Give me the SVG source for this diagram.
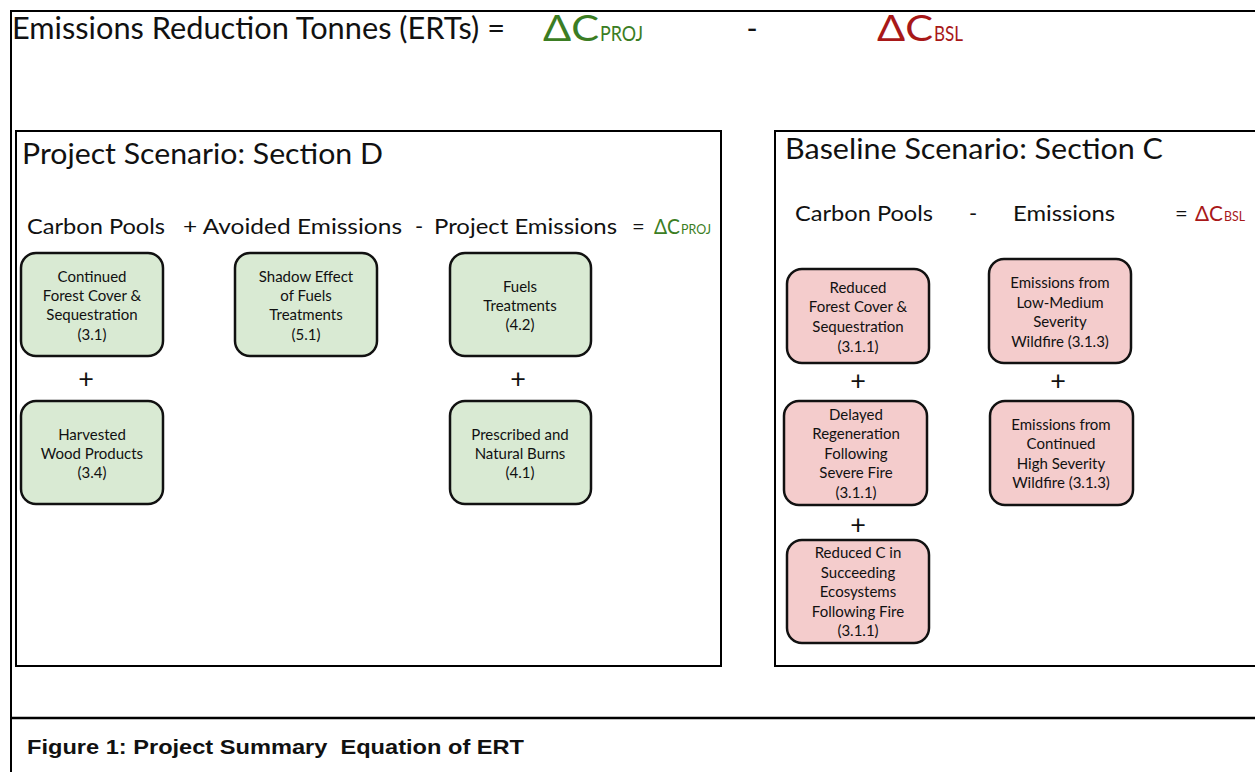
<svg xmlns="http://www.w3.org/2000/svg" width="1255" height="772" viewBox="0 0 1255 772">
<style>
.t{font-family:Lato,"Open Sans","Liberation Sans",sans-serif;fill:#111}
.nt{font-family:Lato,"Open Sans","Liberation Sans",sans-serif;font-size:15px;fill:#111;text-anchor:middle}
.g{fill:#d9ead3;stroke:#111;stroke-width:2.5}
.r{fill:#f4cccc;stroke:#111;stroke-width:2.5}
.frame{fill:none;stroke:#000;stroke-width:2}
.plus{font-family:Lato,"Liberation Sans",sans-serif;font-size:27px;fill:#111;text-anchor:middle}
.grn{fill:#3b7d23}
.red{fill:#a81818}
</style>
<rect width="1255" height="772" fill="#fff"/>
<g id="frame">
<line x1="11" y1="11" x2="1255" y2="11" stroke="#000" stroke-width="2"/>
<line x1="11" y1="10" x2="11" y2="772" stroke="#000" stroke-width="2"/>
<line x1="10" y1="718" x2="1255" y2="718" stroke="#000" stroke-width="2.5"/>
</g>
<g id="title">
<text class="t" x="12" y="39" font-size="30" textLength="493" lengthAdjust="spacingAndGlyphs">Emissions Reduction Tonnes (ERTs) =</text>
<text class="t grn" x="543" y="41" font-size="36" textLength="56" lengthAdjust="spacingAndGlyphs">ΔC</text>
<text class="t grn" x="600" y="41" font-size="22" textLength="43" lengthAdjust="spacingAndGlyphs">PROJ</text>
<text class="t" x="752" y="39" font-size="30" text-anchor="middle">-</text>
<text class="t red" x="877" y="41" font-size="36" textLength="56" lengthAdjust="spacingAndGlyphs">ΔC</text>
<text class="t red" x="934" y="41" font-size="22" textLength="29" lengthAdjust="spacingAndGlyphs">BSL</text>
</g>
<g id="project-box">
<rect class="frame" x="16" y="131" width="705" height="535"/>
<text class="t" x="22" y="164" font-size="28" textLength="361" lengthAdjust="spacingAndGlyphs">Project Scenario: Section D</text>
<text class="t" x="27" y="234" font-size="22" textLength="138" lengthAdjust="spacingAndGlyphs">Carbon Pools</text>
<text class="t" x="183" y="234" font-size="22" textLength="219" lengthAdjust="spacingAndGlyphs">+ Avoided Emissions</text>
<text class="t" x="419" y="234" font-size="22" text-anchor="middle">-</text>
<text class="t" x="434" y="234" font-size="22" textLength="183" lengthAdjust="spacingAndGlyphs">Project Emissions</text>
<text class="t" x="632" y="234" font-size="22">=</text>
<text class="t grn" x="654" y="234" font-size="22" textLength="26" lengthAdjust="spacingAndGlyphs">ΔC</text>
<text class="t grn" x="681" y="234" font-size="13" textLength="30" lengthAdjust="spacingAndGlyphs">PROJ</text>
</g>
<g id="baseline-box">
<rect class="frame" x="775" y="131" width="490" height="535"/>
<text class="t" x="785" y="159" font-size="28" textLength="378" lengthAdjust="spacingAndGlyphs">Baseline Scenario: Section C</text>
<text class="t" x="795" y="221" font-size="22" textLength="138" lengthAdjust="spacingAndGlyphs">Carbon Pools</text>
<text class="t" x="973" y="221" font-size="22" text-anchor="middle">-</text>
<text class="t" x="1013" y="221" font-size="22" textLength="102" lengthAdjust="spacingAndGlyphs">Emissions</text>
<text class="t" x="1175" y="221" font-size="22">=</text>
<text class="t red" x="1195" y="221" font-size="22" textLength="28" lengthAdjust="spacingAndGlyphs">ΔC</text>
<text class="t red" x="1224" y="221" font-size="13" textLength="21" lengthAdjust="spacingAndGlyphs">BSL</text>
</g>
<g id="n-continued-forest">
<rect class="g" x="21" y="253" width="142" height="103" rx="15"/>
<text class="nt" x="92" y="282">Continued</text>
<text class="nt" x="92" y="301">Forest Cover &amp;</text>
<text class="nt" x="92" y="320">Sequestration</text>
<text class="nt" x="92" y="340">(3.1)</text>
</g>
<g id="n-shadow-effect">
<rect class="g" x="235" y="253" width="142" height="103" rx="15"/>
<text class="nt" x="306" y="282">Shadow Effect</text>
<text class="nt" x="306" y="301">of Fuels</text>
<text class="nt" x="306" y="320">Treatments</text>
<text class="nt" x="306" y="340">(5.1)</text>
</g>
<g id="n-fuels-treatments">
<rect class="g" x="450" y="253" width="141" height="103" rx="15"/>
<text class="nt" x="520" y="292">Fuels</text>
<text class="nt" x="520" y="311">Treatments</text>
<text class="nt" x="520" y="330">(4.2)</text>
</g>
<g id="n-harvested-wood">
<rect class="g" x="21" y="401" width="142" height="103" rx="15"/>
<text class="nt" x="92" y="440">Harvested</text>
<text class="nt" x="92" y="459">Wood Products</text>
<text class="nt" x="92" y="478">(3.4)</text>
</g>
<g id="n-prescribed-burns">
<rect class="g" x="450" y="401" width="141" height="103" rx="15"/>
<text class="nt" x="520" y="440">Prescribed and</text>
<text class="nt" x="520" y="459">Natural Burns</text>
<text class="nt" x="520" y="478">(4.1)</text>
</g>
<g id="n-reduced-forest">
<rect class="r" x="787" y="269" width="142" height="94" rx="15"/>
<text class="nt" x="858" y="293">Reduced</text>
<text class="nt" x="858" y="312">Forest Cover &amp;</text>
<text class="nt" x="858" y="332">Sequestration</text>
<text class="nt" x="858" y="352">(3.1.1)</text>
</g>
<g id="n-low-medium">
<rect class="r" x="989" y="259" width="142" height="104" rx="15"/>
<text class="nt" x="1060" y="288">Emissions from</text>
<text class="nt" x="1060" y="308">Low-Medium</text>
<text class="nt" x="1060" y="327">Severity</text>
<text class="nt" x="1060" y="347">Wildfire (3.1.3)</text>
</g>
<g id="n-delayed-regen">
<rect class="r" x="784" y="401" width="143" height="104" rx="15"/>
<text class="nt" x="856" y="420">Delayed</text>
<text class="nt" x="856" y="439">Regeneration</text>
<text class="nt" x="856" y="459">Following</text>
<text class="nt" x="856" y="478">Severe Fire</text>
<text class="nt" x="856" y="498">(3.1.1)</text>
</g>
<g id="n-high-severity">
<rect class="r" x="990" y="401" width="143" height="104" rx="15"/>
<text class="nt" x="1061" y="430">Emissions from</text>
<text class="nt" x="1061" y="449">Continued</text>
<text class="nt" x="1061" y="469">High Severity</text>
<text class="nt" x="1061" y="488">Wildfire (3.1.3)</text>
</g>
<g id="n-reduced-c">
<rect class="r" x="787" y="540" width="142" height="103" rx="15"/>
<text class="nt" x="858" y="558">Reduced C in</text>
<text class="nt" x="858" y="578">Succeeding</text>
<text class="nt" x="858" y="597">Ecosystems</text>
<text class="nt" x="858" y="617">Following Fire</text>
<text class="nt" x="858" y="636">(3.1.1)</text>
</g>
<g id="connectors">
<text class="plus" x="86" y="388">+</text>
<text class="plus" x="518" y="388">+</text>
<text class="plus" x="858" y="390">+</text>
<text class="plus" x="1058" y="390">+</text>
<text class="plus" x="858" y="534">+</text>
</g>
<g id="caption">
<text x="27" y="754" font-family="'Liberation Sans',Arial,sans-serif" font-weight="bold" font-size="20" fill="#111" textLength="497" lengthAdjust="spacingAndGlyphs" xml:space="preserve">Figure 1: Project Summary  Equation of ERT</text>
</g>
</svg>
